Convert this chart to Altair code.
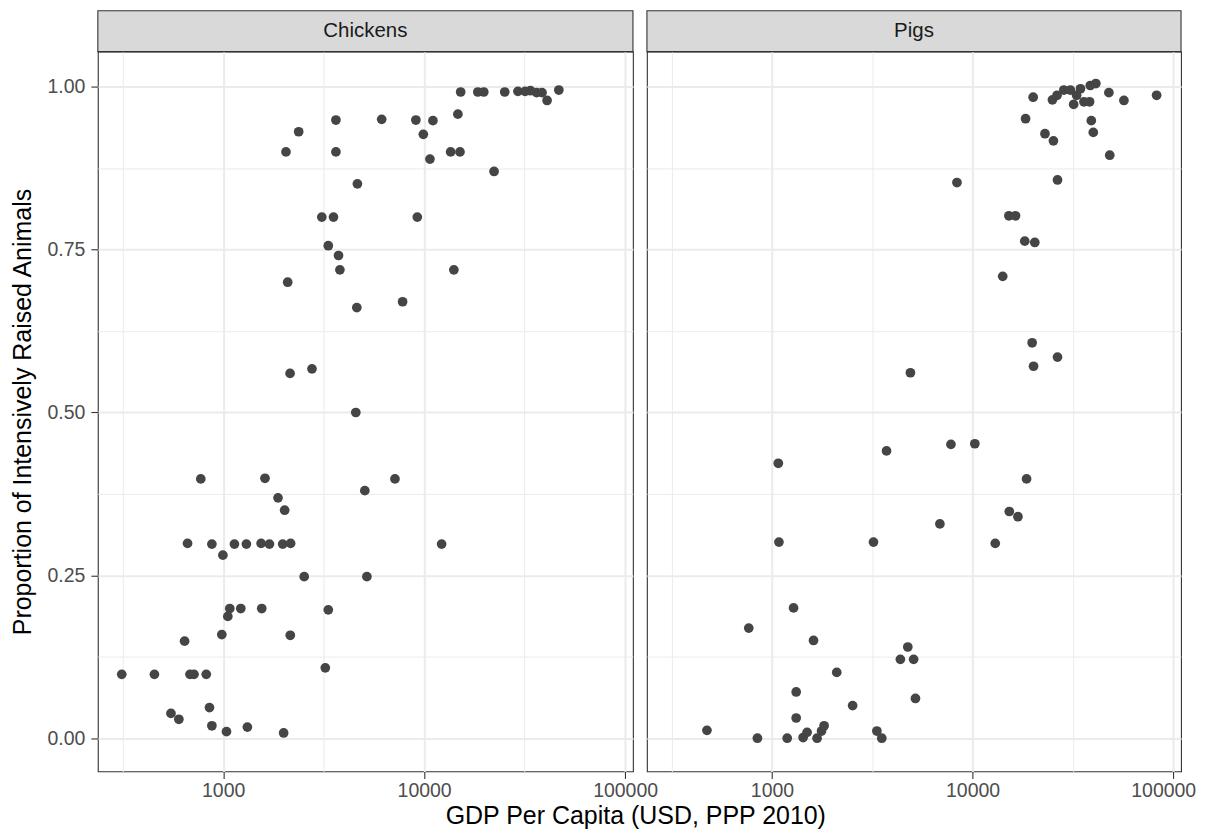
import altair as alt
import pandas as pd

panels = ["Chickens", "Pigs"]

chickens_gdp = [3640, 2376, 2054, 3640, 4656, 3097, 3540, 3335, 3750, 3810, 2095, 4625, 2153, 2767, 4571,
                15200, 18500, 19800, 25180, 29300, 31800, 33800, 36300, 38600, 40900, 46800,
                6150, 9100, 11060, 9910, 14720, 10690, 13550, 15080, 22280, 9250, 14060, 7814,
                774, 1615, 5070, 1875, 2023, 665, 879, 997, 1138, 1305, 1545, 1700, 1978, 2166,
                2531, 5190, 1079, 1224, 1556, 1055, 3335, 643, 985, 2158, 3223,
                313, 455, 684, 716, 824, 855, 550, 602, 879, 1320, 1039, 2000,
                7160, 12220]
chickens_prop = [0.949, 0.931, 0.900, 0.900, 0.851, 0.800, 0.800, 0.756, 0.741, 0.719, 0.700, 0.661, 0.560, 0.567, 0.500,
                 0.992, 0.992, 0.992, 0.992, 0.993, 0.993, 0.994, 0.991, 0.991, 0.979, 0.995,
                 0.950, 0.949, 0.948, 0.927, 0.958, 0.889, 0.900, 0.900, 0.870, 0.800, 0.719, 0.670,
                 0.398, 0.399, 0.380, 0.369, 0.350, 0.299, 0.298, 0.281, 0.298, 0.298, 0.299, 0.298, 0.298, 0.299,
                 0.248, 0.248, 0.199, 0.199, 0.199, 0.187, 0.197, 0.149, 0.159, 0.158, 0.108,
                 0.098, 0.098, 0.098, 0.098, 0.098, 0.047, 0.038, 0.029, 0.019, 0.017, 0.010, 0.008,
                 0.398, 0.298]

pigs_gdp = [4898, 20040, 25000, 26370, 28500, 30700, 31900, 33000, 34500, 35900, 38300, 38600, 41150,
            47800, 56800, 82660, 18370, 39060, 39960, 22950, 25290, 48270, 8358, 26500,
            15170, 16370, 18200, 20420, 14130, 19810, 26500, 20130,
            3724, 1075, 1083, 3206, 1281, 766, 1611, 4753, 4365, 5082, 2103, 5190, 1320, 2523, 1320,
            474, 846, 1191, 1430, 1496, 1678, 1766, 1819, 3333, 3526,
            7800, 10260, 18580, 15240, 16830, 6871, 12970]
pigs_prop = [0.561, 0.984, 0.980, 0.987, 0.995, 0.995, 0.973, 0.987, 0.997, 0.977, 0.977, 1.002, 1.005,
             0.991, 0.979, 0.987, 0.951, 0.948, 0.930, 0.928, 0.917, 0.895, 0.853, 0.857,
             0.802, 0.802, 0.763, 0.761, 0.709, 0.607, 0.585, 0.571,
             0.441, 0.422, 0.301, 0.301, 0.200, 0.169, 0.150, 0.140, 0.121, 0.121, 0.101, 0.061, 0.071, 0.050, 0.031,
             0.012, 0.000, 0.000, 0.001, 0.009, 0.000, 0.011, 0.019, 0.011, 0.000,
             0.451, 0.452, 0.398, 0.348, 0.340, 0.329, 0.299]

x_major = [1000, 10000, 100000]
x_minor = [316.2278, 3162.278, 31622.78]
y_major = [0.0, 0.25, 0.5, 0.75, 1.0]
y_minor = [0.125, 0.375, 0.625, 0.875]

FONT = "Liberation Sans"
W_LEFT, W_RIGHT, H = 536, 535, 721
STRIP = 41

x_major_test = "datum.value == 1000 || datum.value == 10000 || datum.value == 100000"
y_major_test = "datum.value == 0 || datum.value == 0.25 || datum.value == 0.5 || datum.value == 0.75 || datum.value == 1"


def panel(name, gdp, prop, width, first):
    df = pd.DataFrame({"gdp": gdp, "prop": prop})
    x_axis = alt.Axis(
        values=sorted(x_major + x_minor),
        labelExpr=f"({x_major_test}) ? format(datum.value, 'd') : ''",
        title=None,
        domain=False,
        grid=True,
        gridColor="#EBEBEB",
        gridWidth={"condition": {"test": x_major_test, "value": 2.0}, "value": 1.0},
        tickColor="#333333",
        tickWidth=1.1,
        tickSize=7,
        tickOpacity={"condition": {"test": x_major_test, "value": 1}, "value": 0},
        labelPadding=3,
        labelFontSize=19.5,
        labelColor="#4D4D4D",
        labelFont=FONT,
        labelOverlap=False,
        labelFlush=False,
        labelOffset={"condition": {"test": "datum.value == 100000", "value": 0 if first else -10}, "value": 0},
    )
    if first:
        y_axis = alt.Axis(
            values=sorted(y_major + y_minor),
            labelExpr=f"({y_major_test}) ? format(datum.value, '.2f') : ''",
            title="Proportion of Intensively Raised Animals",
            titleFontSize=25,
            titleFontWeight="normal",
            titleColor="#000000",
            titleFont=FONT,
            titlePadding=12,
            domain=False,
            grid=True,
            gridColor="#EBEBEB",
            gridWidth={"condition": {"test": y_major_test, "value": 2.0}, "value": 1.0},
            tickColor="#333333",
            tickWidth=1.1,
            tickSize=7,
            tickOpacity={"condition": {"test": y_major_test, "value": 1}, "value": 0},
            labelPadding=6,
            labelFontSize=19.5,
            labelColor="#4D4D4D",
            labelFont=FONT,
            labelOverlap=False,
        )
    else:
        y_axis = alt.Axis(
            values=sorted(y_major + y_minor),
            labels=False,
            ticks=False,
            domain=False,
            title=None,
            grid=True,
            gridColor="#EBEBEB",
            gridWidth={"condition": {"test": y_major_test, "value": 2.0}, "value": 1.0},
            minExtent=0,
        )
    points = alt.Chart(df).mark_circle(size=95, color="#454545", opacity=1).encode(
        x=alt.X("gdp:Q", scale=alt.Scale(type="log", domain=[238, 109400], nice=False), axis=x_axis),
        y=alt.Y("prop:Q", scale=alt.Scale(domain=[-0.051, 1.054], nice=False, zero=False), axis=y_axis),
    )
    strip_data = alt.Data(values=[{"panel": name}])
    strip_rect = alt.Chart(strip_data).mark_rect(fill="#D9D9D9", stroke="#333333", strokeWidth=1.1).encode(
        x=alt.value(0), x2=alt.value(width), y=alt.value(-STRIP), y2=alt.value(0)
    )
    strip_text = alt.Chart(strip_data).mark_text(
        font=FONT, fontSize=20.5, color="#1A1A1A", baseline="middle", align="center"
    ).encode(text="panel:N", x=alt.value(width / 2), y=alt.value(-STRIP / 2))
    return alt.layer(points, strip_rect, strip_text).properties(width=width, height=H)


left = panel(panels[0], chickens_gdp, chickens_prop, W_LEFT, True)
right = panel(panels[1], pigs_gdp, pigs_prop, W_RIGHT, False)

chart = alt.hconcat(left, right, spacing=14, bounds="flush").properties(
    title=alt.TitleParams(
        "GDP Per Capita (USD, PPP 2010)",
        orient="bottom",
        anchor="middle",
        fontSize=25,
        fontWeight="normal",
        font=FONT,
        color="#000000",
        offset=4,
        dx=33,
    ),
    padding={"left": 1, "top": 0, "right": 0, "bottom": 0},
    background="white",
).configure_view(stroke="#333333", strokeWidth=1.1)

chart.save("out.html", embed_options={"renderer": "svg", "actions": False})
